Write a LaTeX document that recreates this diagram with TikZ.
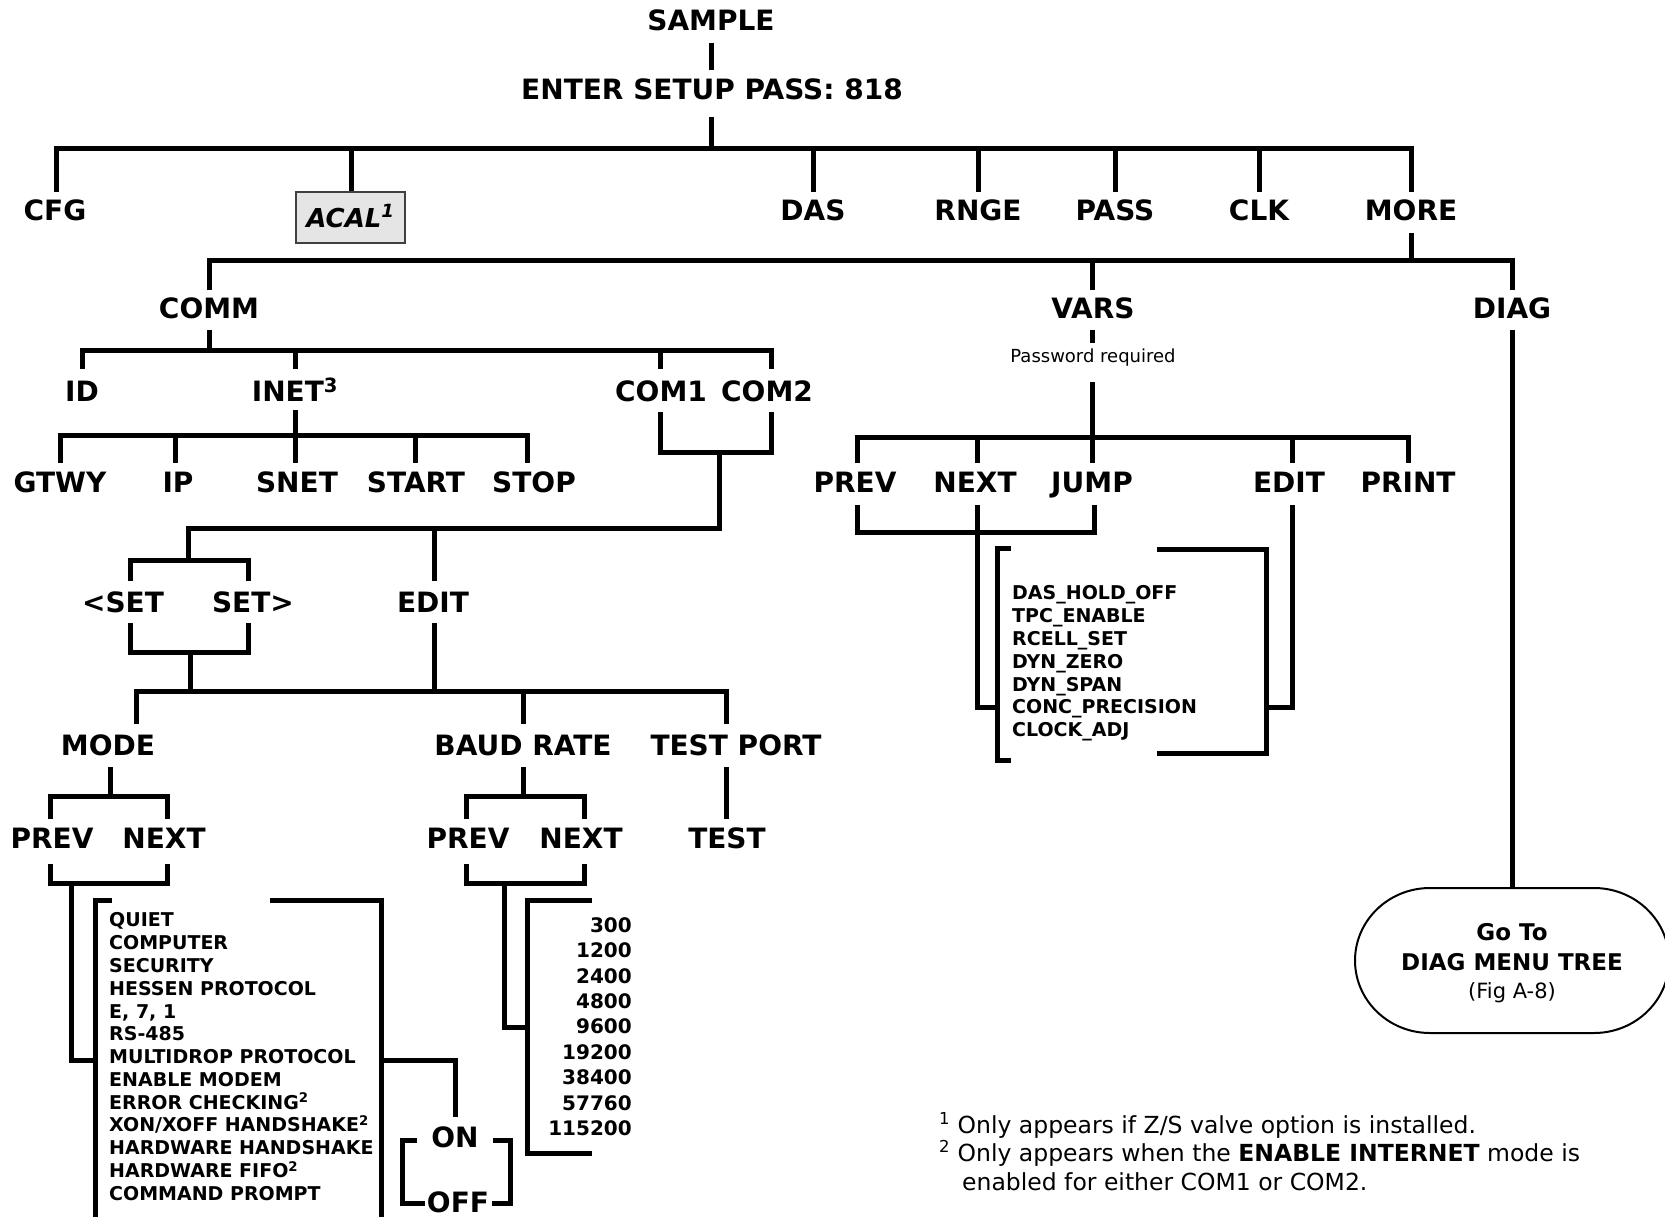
\documentclass[tikz,border=0pt]{standalone}
\usepackage{fontspec}
\setmainfont{DejaVu Sans}
\begin{document}
\begin{tikzpicture}[x=1pt,y=-1pt,
  ln/.style={line width=5pt, line join=miter},
  lbl/.style={font=\fontsize{28}{30}\selectfont\bfseries, inner sep=0pt, text height=20.4pt, text depth=0pt},
  itm/.style={font=\fontsize{19}{22}\selectfont\bfseries, inner sep=0pt, anchor=west, text height=13.9pt, text depth=0pt},
  num/.style={font=\fontsize{20}{22}\selectfont\bfseries, inner sep=0pt, anchor=east, text height=14.6pt, text depth=0pt},
  fn/.style={font=\fontsize{23.5}{26}\selectfont, inner sep=0pt, anchor=west, text height=17.1pt, text depth=0pt},
  ov/.style={font=\fontsize{23}{25}\selectfont\bfseries, inner sep=0pt, text height=16.8pt, text depth=0pt}]
\useasboundingbox (0,0) rectangle (1665,1216);
\fill[white] (0,0) rectangle (1665,1216);
% ---------- top ----------
\node[lbl] (sample) at (711,20) {SAMPLE};
\node[lbl] (enter) at (712,89) {ENTER SETUP PASS: 818};
\draw[ln] (711,43) -- (711,70);
\draw[ln] (711,117) -- (711,148);
\draw[ln] (56,192) -- (56,148) -- (1411,148) -- (1411,192);
\foreach \x in {351,813,978,1115,1259} \draw[ln] (\x,148) -- (\x,192);
\node[lbl] (cfg) at (55,210) {CFG};
\node[draw=black!75, fill=black!10, line width=1.5pt, minimum width=109pt, minimum height=51pt,
      font=\fontsize{26}{28}\selectfont\bfseries\itshape, inner sep=0pt, text height=19pt, text depth=0pt]
      (acal) at (350.5,217.5) {ACAL\textsuperscript{1}};
\node[lbl] (das) at (813,210) {DAS};
\node[lbl] (rnge) at (978,210) {RNGE};
\node[lbl] (pass) at (1115,210) {PASS};
\node[lbl] (clk) at (1259,210) {CLK};
\node[lbl] (more) at (1411,210) {MORE};
% ---------- MORE ----------
\draw[ln] (1411,233) -- (1411,260);
\draw[ln] (209,290) -- (209,260) -- (1512,260) -- (1512,290);
\draw[ln] (1092,260) -- (1092,290);
\node[lbl] (comm) at (209,308) {COMM};
\node[lbl] (vars) at (1093,308) {VARS};
\node[lbl] (diag) at (1512,308) {DIAG};
% ---------- COMM ----------
\draw[ln] (209,330) -- (209,350);
\draw[ln] (82,369) -- (82,350) -- (771,350) -- (771,369);
\draw[ln] (295,350) -- (295,369);
\draw[ln] (660,350) -- (660,369);
\node[lbl] (id) at (82,391) {ID};
\node[lbl] (inet) at (295,391) {INET\textsuperscript{3}};
\node[lbl] (com1) at (661,391) {COM1};
\node[lbl] (com2) at (767,391) {COM2};
\draw[ln] (295,410) -- (295,463);
\draw[ln] (60,463) -- (60,435) -- (527,435) -- (527,463);
\draw[ln] (175,435) -- (175,463);
\draw[ln] (415,435) -- (415,463);
\node[lbl] (gtwy) at (60,482) {GTWY};
\node[lbl] (ip) at (178,482) {IP};
\node[lbl] (snet) at (297,482) {SNET};
\node[lbl] (start) at (416,482) {START};
\node[lbl] (stop) at (534,482) {STOP};
\draw[ln] (660,412) -- (660,452) -- (771,452) -- (771,412);
\draw[ln] (719,452) -- (719,528) -- (188,528) -- (188,560);
\draw[ln] (434,528) -- (434,581);
\draw[ln] (130,581) -- (130,560) -- (248,560) -- (248,581);
\node[lbl] (lset) at (123,602) {\textless SET};
\node[lbl] (rset) at (253,602) {SET\textgreater};
\node[lbl] (cedit) at (433,602) {EDIT};
\draw[ln] (130,623) -- (130,652) -- (248,652) -- (248,623);
\draw[ln] (190,652) -- (190,691);
\draw[ln] (434,623) -- (434,691);
\draw[ln] (136,724) -- (136,691) -- (726,691) -- (726,724);
\draw[ln] (523,691) -- (523,724);
\node[lbl] (mode) at (108,745) {MODE};
\node[lbl] (baud) at (523,745) {BAUD RATE};
\node[lbl] (tport) at (736,745) {TEST PORT};
\draw[ln] (110,767) -- (110,796);
\draw[ln] (50,819) -- (50,796) -- (167,796) -- (167,819);
\draw[ln] (523,767) -- (523,796);
\draw[ln] (466,819) -- (466,796) -- (584,796) -- (584,819);
\draw[ln] (726,767) -- (726,819);
\node[lbl] (mprev) at (52,838) {PREV};
\node[lbl] (mnext) at (164,838) {NEXT};
\node[lbl] (bprev) at (468,838) {PREV};
\node[lbl] (bnext) at (581,838) {NEXT};
\node[lbl] (test) at (727,838) {TEST};
\draw[ln] (50,864) -- (50,883) -- (167,883) -- (167,864);
\draw[ln] (466,864) -- (466,883) -- (584,883) -- (584,864);
\draw[ln] (71,883) -- (71,1060) -- (95,1060);
\draw[ln] (504,883) -- (504,1027) -- (527,1027);
% MODE list
\draw[ln] (112,900) -- (95,900) -- (95,1220);
\draw[ln] (270,900) -- (381,900) -- (381,1220);
\draw[ln] (381,1060) -- (455,1060) -- (455,1117);
\foreach \t [count=\i from 0] in {QUIET,COMPUTER,SECURITY,HESSEN PROTOCOL,{E, 7, 1},RS-485,MULTIDROP PROTOCOL,ENABLE MODEM,ERROR CHECKING\textsuperscript{2},XON/XOFF HANDSHAKE\textsuperscript{2},HARDWARE HANDSHAKE,HARDWARE FIFO\textsuperscript{2},COMMAND PROMPT}
  \node[itm] (m\i) at (109,920+22.77*\i) {\t};
\node[lbl] (on) at (455,1137) {ON};
\node[lbl] (off) at (458,1202) {OFF};
\draw[ln] (417,1140) -- (402,1140) -- (402,1203) -- (425,1203);
\draw[ln] (493,1140) -- (510,1140) -- (510,1203) -- (492,1203);
% BAUD list
\draw[ln] (592,900) -- (527,900) -- (527,1153) -- (592,1153);
\foreach \t [count=\i from 0] in {300,1200,2400,4800,9600,19200,38400,57760,115200}
  \node[num] (b\i) at (632,925+25.4*\i) {\t};
% ---------- VARS ----------
\draw[ln] (1092,330) -- (1092,343);
\node[font=\fontsize{18}{20}\selectfont, inner sep=0pt] (pw) at (1093,358) {Password required};
\draw[ln] (1092,382) -- (1092,463);
\draw[ln] (857,463) -- (857,437) -- (1408,437) -- (1408,463);
\draw[ln] (977,437) -- (977,463);
\draw[ln] (1292,437) -- (1292,463);
\node[lbl] (vprev) at (855,482) {PREV};
\node[lbl] (vnext) at (975,482) {NEXT};
\node[lbl] (jump) at (1092,482) {JUMP};
\node[lbl] (vedit) at (1289,482) {EDIT};
\node[lbl] (print) at (1408,482) {PRINT};
\draw[ln] (857,505) -- (857,532) -- (1094,532) -- (1094,505);
\draw[ln] (977,505) -- (977,707) -- (997,707);
\draw[ln] (1292,505) -- (1292,707) -- (1266,707);
\draw[ln] (1011,548) -- (997,548) -- (997,760) -- (1011,760);
\draw[ln] (1157,549) -- (1266,549) -- (1266,753) -- (1157,753);
\foreach \t [count=\i from 0] in {DAS\_HOLD\_OFF,TPC\_ENABLE,RCELL\_SET,DYN\_ZERO,DYN\_SPAN,CONC\_PRECISION,CLOCK\_ADJ}
  \node[itm] (v\i) at (1012,593+22.8*\i) {\t};
% ---------- DIAG ----------
\draw[ln] (1512,330) -- (1512,888);
\draw[line width=2pt] (1430,888) -- (1594,888) arc[start angle=-90,end angle=90,x radius=75,y radius=72.5]
  -- (1430,1033) arc[start angle=90,end angle=270,x radius=75,y radius=72.5] -- cycle;
\node[ov] (goto) at (1512,932) {Go To};
\node[ov] (dmt) at (1512,962) {DIAG MENU TREE};
\node[font=\fontsize{21}{23}\selectfont, inner sep=0pt] (fig) at (1512,993) {(Fig A-8)};
% ---------- footnotes ----------
\node[fn] (fn1) at (939,1125) {\textsuperscript{1} Only appears if Z/S valve option is installed.};
\node[fn] (fn2) at (939,1153) {\textsuperscript{2} Only appears when the \textbf{ENABLE INTERNET} mode is};
\node[fn] (fn3) at (962,1182) {enabled for either COM1 or COM2.};
\end{tikzpicture}
\end{document}
